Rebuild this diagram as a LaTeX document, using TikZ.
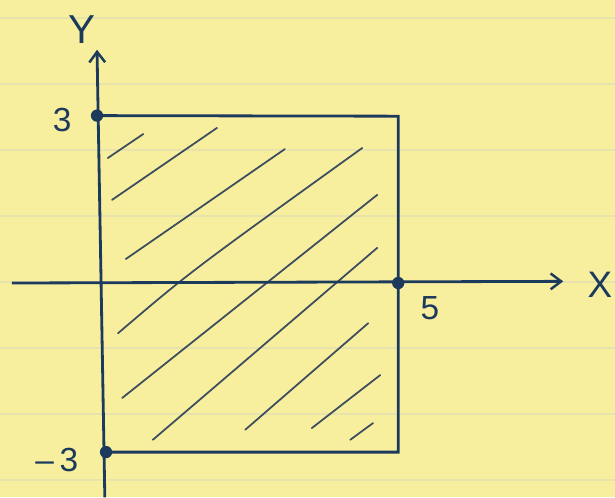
\documentclass[tikz,border=0pt]{standalone}
\usepackage{fontspec}
\setmainfont{Liberation Sans}
\usetikzlibrary{arrows.meta}
\definecolor{paper-yellow}{HTML}{F8EF9E}
\definecolor{rule-line}{HTML}{E8E2AC}
\definecolor{ink-blue}{HTML}{1C3A5C}
\definecolor{hatch-ink}{HTML}{3B4D5E}

\begin{document}
\begin{tikzpicture}[x=1.2cm, y=1.116cm,
    axis/.style={draw=ink-blue, line width=1.6pt, -{Straight Barb[length=6pt, width=9pt, line width=1.4pt]}},
    edge/.style={draw=ink-blue, line width=1.6pt},
    hatch/.style={draw=hatch-ink, line width=1.0pt, line cap=round},
    ruled/.style={draw=rule-line, line width=0.8pt},
    dot/.style={circle, fill=ink-blue, inner sep=0pt, minimum size=7pt},
    label/.style={text=ink-blue, font=\fontsize{19}{22}\selectfont, inner sep=1pt}]
    % Coordinates: (x, y), origin where the axes cross
    %   page from (-1.667,-3.835) to (8.583,5.072)
    %   box corners (0,3), (5,3), (5,-3), (0,-3)
    %   ruled paper lines every 1.183 units, first at y=4.75
    \fill[paper-yellow] (-1.667,-3.835) rectangle (8.583,5.072);
    \useasboundingbox (-1.667,-3.835) rectangle (8.583,5.072);
    \foreach \r in {0,...,7}
      \draw[ruled] (-1.667,4.75-1.183*\r) -- (8.583,4.75-1.183*\r);

    % box corners and axis ends
    \coordinate (topleft) at (-0.05,3);
    \coordinate (topright) at (4.97,2.99);
    \coordinate (botright) at (4.97,-3.03);
    \coordinate (botleft) at (0.1,-3.03);
    \coordinate (xfrom) at (-1.47,0);
    \coordinate (xto) at (7.72,0.03);
    \coordinate (yfrom) at (0.08,-3.84);
    \coordinate (yto) at (-0.05,4.18);

    % hatching inside the box
    \draw[hatch] (0.13,2.24) -- (0.72,2.67);
    \draw[hatch] (0.2,1.49) -- (1.95,2.78);
    \draw[hatch] (0.43,0.43) -- (3.08,2.4);
    \draw[hatch] (0.3,-0.9) .. controls (1.5,0.2) .. (4.37,2.42);
    \draw[hatch] (0.37,-2.06) -- (4.62,1.58);
    \draw[hatch] (0.88,-2.81) -- (4.62,0.63);
    \draw[hatch] (2.42,-2.63) -- (4.47,-0.72);
    \draw[hatch] (3.53,-2.6) -- (4.67,-1.65);
    \draw[hatch] (4.17,-2.81) -- (4.55,-2.51);

    % the box
    \draw[edge] (topleft) -- (topright) -- (botright) -- (botleft);

    % axes
    \draw[axis] (xfrom) -- (xto);
    \draw[axis] (yfrom) -- (yto);

    % marked points
    \node[dot] (pthree) at (topleft) {};
    \node[dot] (pminus) at (botleft) {};
    \node[dot] (pfive) at (4.97,0) {};

    % labels
    \node[label, font=\fontsize{23}{26}\selectfont] (ylabel) at (-0.3,4.55) {Y};
    \node[label, font=\fontsize{21}{24}\selectfont] (xlabel) at (8.33,-0.04) {X};
    \node[label] (lthree) at (-0.63,2.93) {3};
    \node[label] (lminus) at (-0.72,-3.17) {--\,3};
    \node[label] (lfive) at (5.5,-0.45) {5};
\end{tikzpicture}
\end{document}
